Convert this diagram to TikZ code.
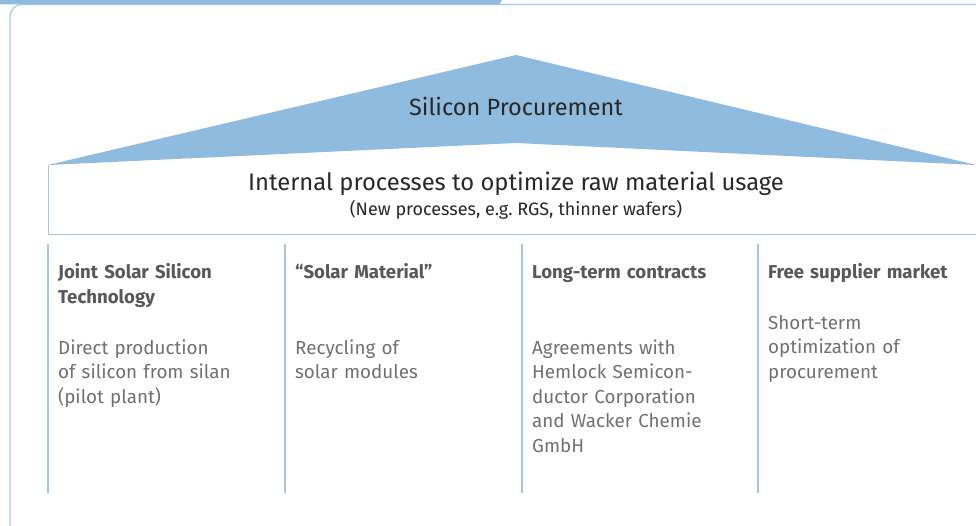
\documentclass[tikz,border=0pt]{standalone}
\usepackage{fontspec}
\setmainfont{Fira Sans}
\definecolor{roofblue}{RGB}{143,187,222}
\definecolor{lineblue}{RGB}{165,199,230}
\definecolor{darktext}{RGB}{40,40,40}
\definecolor{headgray}{RGB}{88,88,88}
\definecolor{bodygray}{RGB}{112,112,112}
\tikzset{
  colhead/.style={anchor=base west, inner sep=0pt, text width=220pt, align=left,
    font=\fontsize{18.6}{25}\selectfont\bfseries, text=headgray},
  colbody/.style={anchor=base west, inner sep=0pt, text width=220pt, align=left,
    font=\fontsize{18.8}{24.5}\selectfont, text=bodygray},
}
\begin{document}
\begin{tikzpicture}[x=1pt,y=-1pt]
	\useasboundingbox (0,0) rectangle (976,526);
	% tab on top and frame
	\fill [roofblue] (0,0) -- (502,0) -- (499,4.5) -- (0,4.5) -- cycle;
	\draw [lineblue, line width=1.2pt, rounded corners=12pt] (976,4.5) -- (10,4.5) -- (10,530);
	% roof
	\fill [roofblue] (48,165) -- (516,55) -- (976,165) -- (516,143) -- cycle;
	\node [anchor=base, inner sep=0pt, font=\fontsize{23.5}{28}\selectfont, text=darktext] (roof) at (516,116) {Silicon Procurement};
	% box under the roof
	\draw [lineblue, line width=1pt] (48,165) -- (48,235) -- (976,235);
	\node [anchor=base, inner sep=0pt, font=\fontsize{23.8}{28}\selectfont, text=darktext] (internal) at (516,191) {Internal processes to optimize raw material usage};
	\node [anchor=base, inner sep=0pt, font=\fontsize{18}{22}\selectfont, text=darktext] (newproc) at (516,216) {(New processes, e.g.\ RGS, thinner wafers)};
	% pillars
	\foreach \x in {48,285,522,758}
		\draw [lineblue, line width=1.2pt] (\x,244) -- (\x,493);
	% column texts
	\node [colhead] (jsshead) at (58,279) {Joint Solar Silicon\\Technology};
	\node [colbody] (jssbody) at (58,354) {Direct production\\of silicon from silan\\(pilot plant)};
	\node [colhead] (smhead) at (295,279) {“Solar Material”};
	\node [colbody] (smbody) at (295,354) {Recycling of\\solar modules};
	\node [colhead] (ltchead) at (532,279) {Long-term contracts};
	\node [colbody] (ltcbody) at (532,354) {Agreements with\\Hemlock Semicon-\\ductor Corporation\\and Wacker Chemie\\GmbH};
	\node [colhead] (fsmhead) at (768,279) {Free supplier market};
	\node [colbody] (fsmbody) at (768,329) {Short-term\\optimization of\\procurement};
\end{tikzpicture}
\end{document}
